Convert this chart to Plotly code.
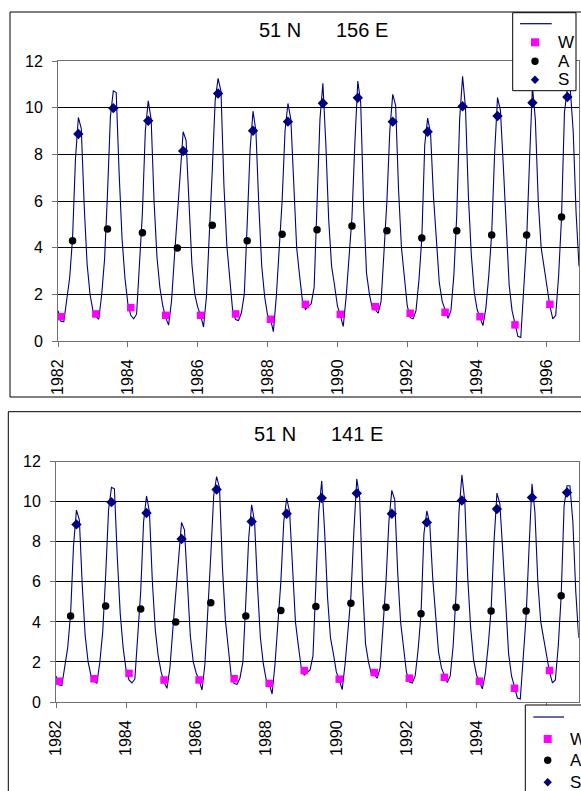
import plotly.graph_objects as go

# ---------------- data ----------------
years = list(range(1982, 1997))
month_offsets = [m / 12 for m in range(12)]

y1982 = [1.30, 0.85, 0.83, 1.70, 2.70, 4.40, 7.80, 9.58, 9.10, 5.80, 3.30, 2.00]
y1983 = [1.30, 1.05, 0.93, 1.97, 3.50, 6.30, 9.60, 10.72, 10.65, 7.20, 4.40, 2.70]
y1984 = [1.60, 1.10, 0.95, 1.15, 3.10, 5.50, 9.00, 10.29, 9.50, 6.00, 3.60, 2.30]
y1985 = [1.50, 1.00, 0.68, 1.70, 3.60, 5.50, 7.50, 8.97, 8.60, 5.80, 3.30, 2.00]
y1986 = [1.45, 1.10, 0.60, 1.90, 4.30, 7.30, 10.30, 11.26, 10.70, 6.70, 4.10, 2.50]
y1987 = [1.30, 0.92, 0.88, 1.20, 2.00, 5.00, 8.20, 9.85, 9.00, 5.80, 3.20, 1.90]
y1988 = [1.10, 0.95, 0.40, 1.90, 3.90, 6.00, 9.00, 10.18, 9.50, 6.60, 4.00, 2.80]
y1989 = [1.70, 1.35, 1.50, 1.60, 2.30, 5.50, 9.50, 11.04, 8.50, 5.20, 3.20, 2.40]
y1990 = [1.50, 1.10, 0.62, 1.90, 3.80, 5.30, 8.50, 11.14, 10.20, 5.80, 2.90, 2.00]
y1991 = [1.40, 1.35, 1.19, 1.70, 3.80, 6.00, 9.00, 10.57, 10.10, 6.50, 4.00, 2.80]
y1992 = [1.50, 1.00, 0.95, 1.30, 2.60, 4.40, 8.40, 9.55, 8.90, 6.20, 4.20, 2.50]
y1993 = [1.70, 1.30, 0.97, 1.30, 2.80, 5.40, 9.50, 11.34, 10.00, 6.20, 3.70, 2.10]
y1994 = [1.35, 1.00, 0.66, 1.40, 2.80, 4.60, 8.00, 10.43, 9.90, 7.50, 5.00, 2.40]
y1995 = [1.30, 0.75, 0.20, 0.15, 2.00, 4.30, 7.70, 10.90, 9.50, 6.00, 4.00, 3.10]
y1996 = [2.20, 1.50, 0.95, 1.10, 2.80, 5.30, 9.80, 10.80, 10.80, 9.00, 5.50, 3.20]
yearly_series = [y1982, y1983, y1984, y1985, y1986, y1987, y1988, y1989,
                 y1990, y1991, y1992, y1993, y1994, y1995, y1996]

W_vals = [1.04, 1.16, 1.43, 1.10, 1.10, 1.16, 0.93, 1.57, 1.14, 1.47, 1.19, 1.23, 1.04, 0.69, 1.57]
A_vals = [4.30, 4.80, 4.64, 3.99, 4.96, 4.30, 4.57, 4.77, 4.93, 4.73, 4.41, 4.73, 4.54, 4.54, 5.31]
S_vals = [8.87, 9.98, 9.44, 8.14, 10.61, 9.01, 9.40, 10.19, 10.42, 9.40, 8.97, 10.06, 9.64, 10.21, 10.46]
W_month, A_month, S_month = 1, 5, 7   # Feb, Jun, Aug

panel_titles = [("51 N", "156 E"), ("51 N", "141 E")]
x_ticks = [1982, 1984, 1986, 1988, 1990, 1992, 1994, 1996]
y_ticks = [0, 2, 4, 6, 8, 10, 12]
legend_labels = ["W", "A", "S"]

# ---------------- derived ----------------
mx, my = [], []
for yr, vals in zip(years, yearly_series):
    for off, v in zip(month_offsets, vals):
        mx.append(yr + off)
        my.append(v)
wx = [yr + W_month / 12 for yr in years]
ax_ = [yr + A_month / 12 for yr in years]
sx = [yr + S_month / 12 for yr in years]

W_PX, H_PX = 581, 791
def px(x):
    return x / W_PX
def py(y):
    return 1 - y / H_PX

NAVY = "#000080"
MAG = "#FF00FF"
FONT = "Liberation Sans, Arial, sans-serif"

fig = go.Figure()
for i, suffix in enumerate(["", "2"]):
    xa, ya = "x" + suffix, "y" + suffix
    fig.add_trace(go.Scatter(x=mx, y=my, mode="lines", line=dict(color=NAVY, width=1.1),
                             xaxis=xa, yaxis=ya, showlegend=False, hoverinfo="skip"))
    fig.add_trace(go.Scatter(x=wx, y=W_vals, mode="markers",
                             marker=dict(symbol="square", size=7.5, color=MAG, line=dict(width=0)),
                             xaxis=xa, yaxis=ya, showlegend=False))
    fig.add_trace(go.Scatter(x=ax_, y=A_vals, mode="markers",
                             marker=dict(symbol="circle", size=7.5, color="black", line=dict(width=0)),
                             xaxis=xa, yaxis=ya, showlegend=False))
    fig.add_trace(go.Scatter(x=sx, y=S_vals, mode="markers",
                             marker=dict(symbol="diamond", size=8, color=NAVY, line=dict(width=0)),
                             xaxis=xa, yaxis=ya, showlegend=False))

# plot area geometry (pixels)
panels = [
    dict(x0=58, x1=579, y0=61, y1=341),
    dict(x0=56, x1=578.7, y0=461.7, y1=702),
]

def axis_common():
    return dict(showline=True, linecolor="#707070", linewidth=1, mirror=True,
                ticks="outside", ticklen=5, tickcolor="#707070", automargin=False,
                tickfont=dict(family=FONT, size=16, color="black"))

layout_axes = {}
for i, p in enumerate(panels):
    sfx = "" if i == 0 else str(i + 1)
    xa = axis_common()
    xa.update(domain=[px(p["x0"]), px(p["x1"])], range=[1982, 1982 + 179 / 12],
              tickvals=x_ticks, ticktext=[str(t) for t in x_ticks], tickangle=-90,
              showgrid=False, zeroline=False, anchor="y" + sfx, ticklabelstandoff=6)
    ya = axis_common()
    ya.update(domain=[py(p["y1"]), py(p["y0"])], range=[0, 12], tickvals=y_ticks,
              showgrid=True, gridcolor="black", gridwidth=1, zeroline=False,
              anchor="x" + sfx, ticklabelstandoff=6)
    layout_axes["xaxis" + sfx] = xa
    layout_axes["yaxis" + sfx] = ya

shapes = []
annotations = []
# outer chart borders
shapes.append(dict(type="rect", xref="paper", yref="paper", x0=px(10), x1=px(600),
                   y0=py(397), y1=py(12), line=dict(color="black", width=1), layer="below"))
shapes.append(dict(type="rect", xref="paper", yref="paper", x0=px(8.3), x1=px(600),
                   y0=py(800), y1=py(411.7), line=dict(color="black", width=1), layer="below"))

# titles
title_pos = [dict(n_right=303.3, e_left=334.3, yc=29.7), dict(n_right=298.3, e_left=329.3, yc=434.2)]
for (t1, t2), tp in zip(panel_titles, title_pos):
    annotations.append(dict(text=t1, xref="paper", yref="paper", x=px(tp["n_right"]), y=py(tp["yc"]),
                            xanchor="right", yanchor="middle", showarrow=False,
                            font=dict(family=FONT, size=20, color="black")))
    annotations.append(dict(text=t2, xref="paper", yref="paper", x=px(tp["e_left"]), y=py(tp["yc"]),
                            xanchor="left", yanchor="middle", showarrow=False,
                            font=dict(family=FONT, size=20, color="black")))

# legends (drawn manually)
legends = [
    dict(bx0=512.7, bx1=576, by0=12.7, by1=90.7, lx0=520, lx1=551.7, ly=23.7,
         mxc=535, tx=556, rows=[42.3, 61.3, 79.7]),
    dict(bx0=525.3, bx1=600, by0=705, by1=800, lx0=533.3, lx1=564, ly=717,
         mxc=547.7, tx=568.3, rows=[739, 760.3, 782.3]),
]
for lg in legends:
    shapes.append(dict(type="rect", xref="paper", yref="paper", x0=px(lg["bx0"]), x1=px(lg["bx1"]),
                       y0=py(lg["by1"]), y1=py(lg["by0"]), line=dict(color="black", width=1),
                       fillcolor="white", layer="above"))
    shapes.append(dict(type="line", xref="paper", yref="paper", x0=px(lg["lx0"]), x1=px(lg["lx1"]),
                       y0=py(lg["ly"]), y1=py(lg["ly"]), line=dict(color=NAVY, width=1.2), layer="above"))
    c = lg["mxc"]
    r0, r1, r2 = lg["rows"]
    shapes.append(dict(type="rect", xref="paper", yref="paper", x0=px(c - 4), x1=px(c + 4),
                       y0=py(r0 + 4), y1=py(r0 - 4), line=dict(width=0), fillcolor=MAG, layer="above"))
    shapes.append(dict(type="circle", xref="paper", yref="paper", x0=px(c - 3.7), x1=px(c + 3.7),
                       y0=py(r1 + 3.7), y1=py(r1 - 3.7), line=dict(width=0), fillcolor="black", layer="above"))
    path = "M {} {} L {} {} L {} {} L {} {} Z".format(px(c), py(r2 - 4.2), px(c + 4.2), py(r2),
                                                      px(c), py(r2 + 4.2), px(c - 4.2), py(r2))
    shapes.append(dict(type="path", xref="paper", yref="paper", path=path, line=dict(width=0),
                       fillcolor=NAVY, layer="above"))
    for lab, r in zip(legend_labels, lg["rows"]):
        annotations.append(dict(text=lab, xref="paper", yref="paper", x=px(lg["tx"]), y=py(r),
                                xanchor="left", yanchor="middle", showarrow=False,
                                font=dict(family=FONT, size=17, color="black")))

fig.update_layout(width=W_PX, height=H_PX, autosize=False,
                  margin=dict(l=0, r=0, t=0, b=0, pad=0, autoexpand=False),
                  paper_bgcolor="white", plot_bgcolor="white",
                  shapes=shapes, annotations=annotations, showlegend=False,
                  **layout_axes)

fig.write_html("out.html", config={"displayModeBar": False})
